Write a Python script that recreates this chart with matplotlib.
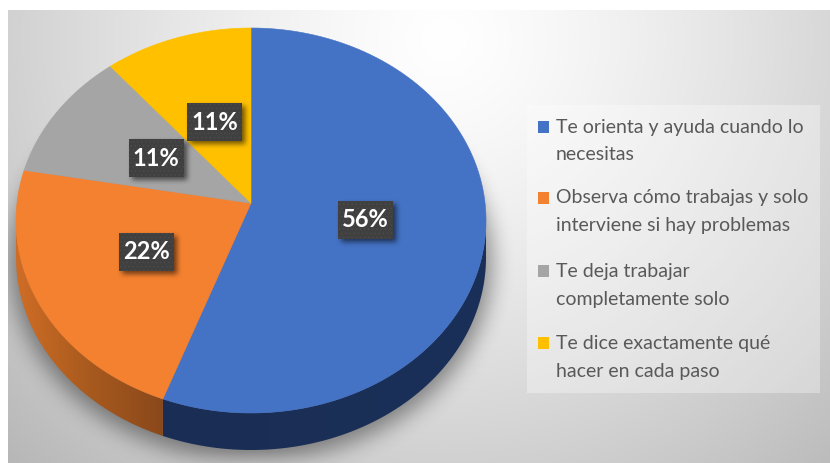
import numpy as np
import matplotlib
matplotlib.use('Agg')
import matplotlib.pyplot as plt
from matplotlib.patches import Polygon, Rectangle
from matplotlib.colors import LinearSegmentedColormap

plt.rcParams['font.family'] = ['Lato', 'DejaVu Sans']

# data
categories = [
    ['Te orienta y ayuda cuando lo', 'necesitas'],
    ['Observa cómo trabajas y solo', 'interviene si hay problemas'],
    ['Te deja trabajar', 'completamente solo'],
    ['Te dice exactamente qué', 'hacer en cada paso'],
]
shares = [55.6, 22.2, 11.1, 11.1]
colors = ['#4472C4', '#F4812F', '#A5A5A5', '#FFC000']

W, H = 830, 463
CX, CY, RX, RY = 251, 220.5, 235, 192.5
TILT = 0.09    # pie centre sits above the middle of the ellipse (perspective)
DEPTH = 37


def project(cw_deg):
    # clockwise angle from the top of the pie -> picture pixels
    a = np.radians(cw_deg)
    u, v = np.sin(a), np.cos(a)
    w = 1 + TILT * v
    x = u * np.sqrt(1 - TILT ** 2) / w
    y = (v + TILT) / w
    return CX + RX * x, CY - RY * y


def blur(img, r, passes=3):
    kernel = np.ones(2 * r + 1) / (2 * r + 1)
    out = img.astype(float)
    for _ in range(passes):
        out = np.apply_along_axis(lambda c: np.convolve(c, kernel, mode='same'), 0, out)
        out = np.apply_along_axis(lambda c: np.convolve(c, kernel, mode='same'), 1, out)
    return out


def layer(ax, alpha, zorder):
    rgba = np.zeros((H, W, 4))
    rgba[..., 3] = alpha
    ax.imshow(rgba, extent=(0, W, H, 0), zorder=zorder, interpolation='bilinear', aspect='auto')


fig = plt.figure(figsize=(W / 100, H / 100), dpi=100, facecolor='white')
ax = fig.add_axes([0, 0, 1, 1])
ax.axis('off')

yy, xx = np.mgrid[0:H, 0:W] + 0.5

# background radial gradient
t = np.sqrt(((xx - 440) / 440) ** 2 + ((yy - 30) / 430) ** 2)
grey = np.clip(1.0 - 0.18 * t ** 1.3, 0, 1)
ax.imshow(np.dstack([grey, grey, grey]), extent=(8, W, H, 10), zorder=0, aspect='auto')

# soft shadow under the pie
sx = (xx - CX) / (RX + 5)
sy = (yy - (CY + DEPTH + 5)) / (RY + 5)
shadow = blur((sx ** 2 + sy ** 2) <= 1, 10) * 0.42
shadow[(xx < 8) | (yy < 10)] = 0
layer(ax, shadow, 1)

edges = np.concatenate([[0], np.cumsum(shares)]) * 360 / sum(shares)
apex = (CX, CY - TILT * RY)

# side wall (lower rim only)
wall_cmaps = [
    LinearSegmentedColormap.from_list('blue', ['#1A2E55', '#1B3058']),
    LinearSegmentedColormap.from_list('orange', ['#CF6D26', '#A85A1E', '#8A481B']),
]
for i in range(2):
    ang = np.linspace(edges[i], edges[i + 1], 300)
    x, y = project(ang)
    keep = y >= CY
    x, y = x[keep], y[keep]
    pts = np.r_[np.c_[x, y], np.c_[x[::-1], y[::-1] + DEPTH]]
    patch = Polygon(pts, closed=True, facecolor='none', edgecolor='none', zorder=2)
    ax.add_patch(patch)
    grad = np.linspace(0, 1, 256).reshape(1, -1)
    im = ax.imshow(grad, cmap=wall_cmaps[i], extent=(x.min(), x.max(), H, 0), zorder=2, aspect='auto')
    im.set_clip_path(patch)

# top faces
for i, c in enumerate(colors):
    ang = np.linspace(edges[i], edges[i + 1], 200)
    x, y = project(ang)
    ax.add_patch(Polygon(np.r_[[apex], np.c_[x, y]], closed=True, facecolor=c,
                         edgecolor=c, linewidth=0.4, zorder=3))

# data labels
BOX_W, BOX_H = 55, 38
box_centres = []
for i in range(len(shares)):
    px, py = project((edges[i] + edges[i + 1]) / 2)
    box_centres.append((apex[0] + 0.49 * (px - apex[0]), apex[1] + 0.49 * (py - apex[1])))

box_shadow = np.zeros((H, W))
for bx, by in box_centres:
    box_shadow[(np.abs(xx - bx - 3) < BOX_W / 2) & (np.abs(yy - by - 3) < BOX_H / 2)] = 1
layer(ax, blur(box_shadow, 2) * 0.55, 4)

plt.rcParams['hatch.linewidth'] = 0.4
for (bx, by), v in zip(box_centres, shares):
    ax.add_patch(Rectangle((bx - BOX_W / 2, by - BOX_H / 2), BOX_W, BOX_H, facecolor='#404040',
                           edgecolor='#4E4E4E', hatch='....', linewidth=0, zorder=5))
    ax.text(bx, by, f'{v:.0f}%', color='white', fontsize=17, fontweight='bold',
            ha='center', va='center', zorder=6)

# legend panel
ax.add_patch(Rectangle((527, 105), 293, 288, facecolor='white', alpha=0.32, edgecolor='none', zorder=3))
row_y = [127, 198, 271, 343]
for lines, c, ry in zip(categories, colors, row_y):
    ax.add_patch(Rectangle((538, ry - 6), 11, 12, facecolor=c, edgecolor='none', zorder=4))
    for k, line in enumerate(lines):
        ax.text(556, ry + k * 28, line, color='#595959', fontsize=14, ha='left', va='center', zorder=4)

ax.set_xlim(0, W)
ax.set_ylim(H, 0)
fig.savefig('out.png', dpi=100)
